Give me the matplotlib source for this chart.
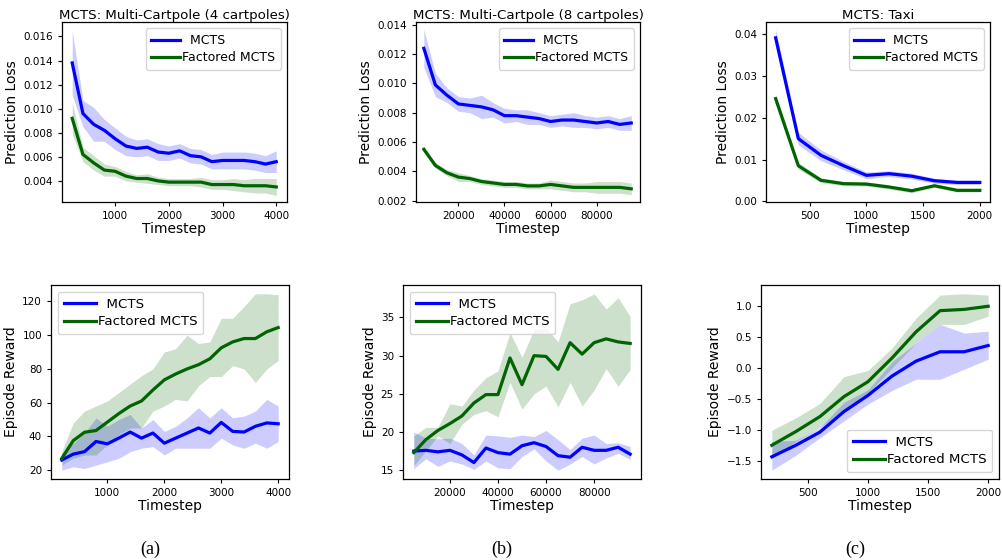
import numpy as np
import matplotlib
matplotlib.use("Agg")
import matplotlib.pyplot as plt

# ---------------- data ----------------
# (a) Multi-Cartpole, 4 cartpoles
t_a = np.arange(200, 4001, 200)
loss_a_mcts = [0.0138, 0.0096, 0.0087, 0.0082, 0.0075, 0.0069, 0.0067, 0.0068, 0.0064, 0.0063,
               0.0065, 0.0061, 0.0060, 0.0056, 0.0057, 0.0057, 0.0057, 0.0056, 0.0054, 0.0056]
loss_a_mcts_sd = [0.0027, 0.0011, 0.0014, 0.0009, 0.0009, 0.0008, 0.0007, 0.0007, 0.0007, 0.0006,
                  0.0006, 0.0006, 0.0006, 0.0006, 0.0007, 0.0007, 0.0007, 0.0007, 0.0007, 0.0009]
loss_a_fact = [0.0092, 0.0062, 0.0055, 0.0049, 0.0048, 0.0044, 0.0042, 0.0042, 0.0040, 0.0039,
               0.0039, 0.0039, 0.0039, 0.0037, 0.0037, 0.0037, 0.0036, 0.0036, 0.0036, 0.0035]
loss_a_fact_sd = [0.0013, 0.0006, 0.0006, 0.0005, 0.0004, 0.0004, 0.0003, 0.0004, 0.0003, 0.0003,
                  0.0003, 0.0003, 0.0004, 0.0004, 0.0004, 0.0005, 0.0005, 0.0006, 0.0006, 0.0007]

rew_a_mcts = [26, 29.5, 31, 37, 35.6, 39, 42.6, 39, 42, 36,
              39, 42, 45, 42, 48.3, 43, 42.6, 46, 48, 47.5]
rew_a_mcts_lo = [20, 22, 21, 23, 25, 27, 31, 33, 34, 29, 33, 33, 33, 33, 39, 35, 33, 36, 33, 37]
rew_a_mcts_hi = [30, 36, 42, 51, 46, 50, 53, 45, 50, 43, 46, 51, 57, 51, 57, 51, 52, 55, 62, 58]
rew_a_fact = [27, 37.5, 42.5, 43.5, 48.5, 53.5, 58, 61, 67.5, 73.5,
              77, 80, 82.5, 86, 92.5, 96, 98, 98, 102, 104.5]
rew_a_fact_lo = [23, 27, 29, 29, 35, 41, 45, 45, 55, 58, 62, 61, 70, 75.5, 75.5, 82, 80, 72, 80, 85]
rew_a_fact_hi = [31, 48, 55, 58, 61, 66, 71, 76, 80, 90, 92, 100, 95, 96, 110, 110, 117, 124.5, 124.5, 124]

# (b) Multi-Cartpole, 8 cartpoles
t_b = np.arange(5000, 95001, 5000)
loss_b_mcts = [0.0124, 0.0099, 0.0092, 0.0086, 0.0085, 0.0084, 0.0082, 0.0078, 0.0078, 0.0077,
               0.0076, 0.0074, 0.0075, 0.0075, 0.0074, 0.0073, 0.0074, 0.0072, 0.0073]
loss_b_mcts_sd = [0.0013, 0.0008, 0.0005, 0.0005, 0.0005, 0.0008, 0.0005, 0.0005, 0.0004, 0.0005,
                  0.0004, 0.0004, 0.0004, 0.0005, 0.0004, 0.0004, 0.0004, 0.0004, 0.0005]
loss_b_fact = [0.0055, 0.0044, 0.0039, 0.0036, 0.0035, 0.0033, 0.0032, 0.0031, 0.0031, 0.0030,
               0.0030, 0.0031, 0.0030, 0.0029, 0.0029, 0.0029, 0.0029, 0.0029, 0.0028]
loss_b_fact_sd = [0.0002, 0.0002, 0.0002, 0.0003, 0.0002, 0.0002, 0.0002, 0.0002, 0.0002, 0.0002,
                  0.0002, 0.0003, 0.0003, 0.0003, 0.0003, 0.0004, 0.0004, 0.0004, 0.0004]

rew_b_mcts = [17.5, 17.6, 17.4, 17.6, 17.0, 16.0, 17.9, 17.3, 17.1, 18.2,
              18.6, 18.1, 16.9, 16.7, 18.0, 17.6, 17.6, 18.0, 17.1]
rew_b_mcts_lo = [15.2, 16.5, 15.5, 16.2, 15.8, 15.1, 16.2, 15.3, 15.2, 16.8,
                 17.8, 16.2, 15.0, 15.8, 16.8, 15.8, 16.6, 17.2, 16.4]
rew_b_mcts_hi = [20.0, 19.2, 19.1, 19.2, 18.5, 17.0, 19.6, 19.5, 19.3, 19.6,
                 19.4, 20.2, 19.0, 17.7, 19.2, 19.6, 18.5, 18.6, 18.1]
rew_b_fact = [17.3, 19.0, 20.2, 21.1, 22.1, 23.8, 24.9, 24.9, 29.7, 26.2,
              30.0, 29.9, 28.2, 31.7, 30.2, 31.7, 32.2, 31.8, 31.6]
rew_b_fact_lo = [15.6, 17.5, 19.5, 18.5, 21.0, 22.3, 22.8, 22.0, 26.5, 23.0,
                 25.0, 26.0, 23.3, 26.5, 23.4, 25.5, 28.3, 26.0, 28.2]
rew_b_fact_hi = [19.5, 20.6, 20.6, 23.7, 23.4, 25.5, 27.1, 28.0, 33.0, 29.8,
                 33.4, 33.6, 31.8, 36.8, 37.3, 38.1, 36.1, 37.6, 35.1]

# (c) Taxi
t_c = np.arange(200, 2001, 200)
loss_c_mcts = [0.0392, 0.0150, 0.0110, 0.0085, 0.0062, 0.0066, 0.0060, 0.0049, 0.0045, 0.0045]
loss_c_mcts_sd = [0.0020, 0.0015, 0.0013, 0.0010, 0.0008, 0.0007, 0.0007, 0.0006, 0.0005, 0.0005]
loss_c_fact = [0.0246, 0.0085, 0.0050, 0.0042, 0.0041, 0.0034, 0.0025, 0.0037, 0.0026, 0.0026]
loss_c_fact_sd = [0.0011, 0.0008, 0.0006, 0.0005, 0.0005, 0.0005, 0.0005, 0.0004, 0.0004, 0.0004]

rew_c_mcts = [-1.425, -1.24, -1.03, -0.70, -0.44, -0.13, 0.11, 0.26, 0.26, 0.36]
rew_c_mcts_lo = [-1.64, -1.40, -1.12, -0.85, -0.58, -0.36, -0.18, -0.18, -0.02, 0.14]
rew_c_mcts_hi = [-1.18, -1.16, -0.96, -0.55, -0.35, 0.10, 0.40, 0.70, 0.56, 0.59]
rew_c_fact = [-1.24, -1.02, -0.78, -0.46, -0.22, 0.16, 0.58, 0.92, 0.94, 0.99]
rew_c_fact_lo = [-1.46, -1.18, -0.95, -0.70, -0.40, 0.00, 0.40, 0.70, 0.70, 0.83]
rew_c_fact_hi = [-1.00, -0.80, -0.57, -0.14, -0.04, 0.32, 0.80, 1.17, 1.19, 1.17]

titles = ["MCTS: Multi-Cartpole (4 cartpoles)", "MCTS: Multi-Cartpole (8 cartpoles)", "MCTS: Taxi"]
captions = ["(a)", "(b)", "(c)"]

# ---------------- figure ----------------
W, H = 1003, 560
fig = plt.figure(figsize=(W / 100, H / 100), dpi=100)

def px_axes(x0, y0, x1, y1):
    # pixel box (top-left origin) -> figure fraction
    return fig.add_axes([x0 / W, 1 - y1 / H, (x1 - x0) / W, (y1 - y0) / H])

BLUE = "#0000ff"
GREEN = "#006400"
LW = 2.3
TICK_FS = 7.5

def style(ax, ylabel):
    ax.tick_params(labelsize=TICK_FS, length=3, width=0.8)
    ax.set_xlabel("Timestep", fontsize=10, labelpad=1)
    ax.set_ylabel(ylabel, fontsize=10, labelpad=3)
    for s in ax.spines.values():
        s.set_linewidth(0.9)

def draw(ax, t, m1, lo1, hi1, m2, lo2, hi2, loc, fs, hl):
    ax.fill_between(t, lo1, hi1, color=BLUE, alpha=0.2, lw=0)
    ax.fill_between(t, lo2, hi2, color=GREEN, alpha=0.2, lw=0)
    ax.plot(t, m1, color=BLUE, lw=LW, label="  MCTS")
    ax.plot(t, m2, color=GREEN, lw=LW, label="Factored MCTS")
    ax.legend(loc=loc, fontsize=fs, handlelength=hl, borderpad=0.45,
              labelspacing=0.35, handletextpad=0.15)

# top row: prediction loss
top_boxes = [(62, 22, 287, 202), (416, 22, 640, 202), (766, 22, 990, 202)]
loss_data = [
    (t_a, loss_a_mcts, loss_a_mcts_sd, loss_a_fact, loss_a_fact_sd),
    (t_b, loss_b_mcts, loss_b_mcts_sd, loss_b_fact, loss_b_fact_sd),
    (t_c, loss_c_mcts, loss_c_mcts_sd, loss_c_fact, loss_c_fact_sd),
]
top_ylims = [(0.00225, 0.0172), (0.0019, 0.0142), (-0.0002, 0.043)]
top_xlims = [(10, 4200), (1600, 98800), (115, 2090)]
for box, (t, m1, s1, m2, s2), yl, xl, title in zip(top_boxes, loss_data, top_ylims, top_xlims, titles):
    ax = px_axes(*box)
    m1, s1, m2, s2 = map(np.asarray, (m1, s1, m2, s2))
    draw(ax, t, m1, m1 - s1, m1 + s1, m2, m2 - s2, m2 + s2, "upper right", 9, 2.3)
    ax.set_ylim(*yl)
    ax.set_xlim(*xl)
    ax.set_title(title, fontsize=9.6, pad=2)
    style(ax, "Prediction Loss")

# bottom row: episode reward
bot_boxes = [(51, 285, 289, 479), (403, 285, 641, 479), (761, 285, 999, 479)]
rew_data = [
    (t_a, rew_a_mcts, rew_a_mcts_lo, rew_a_mcts_hi, rew_a_fact, rew_a_fact_lo, rew_a_fact_hi),
    (t_b, rew_b_mcts, rew_b_mcts_lo, rew_b_mcts_hi, rew_b_fact, rew_b_fact_lo, rew_b_fact_hi),
    (t_c, rew_c_mcts, rew_c_mcts_lo, rew_c_mcts_hi, rew_c_fact, rew_c_fact_lo, rew_c_fact_hi),
]
locs = ["upper left", "upper left", "lower right"]
for box, d, loc in zip(bot_boxes, rew_data, locs):
    ax = px_axes(*box)
    draw(ax, *d, loc, 9.6, 2.4)
    style(ax, "Episode Reward")

for x, c in zip([150, 502, 855], captions):
    fig.text(x / W, 1 - 549 / H, c, ha="center", va="center",
             fontsize=13, family="Liberation Serif")

fig.savefig("out.png", dpi=100)
